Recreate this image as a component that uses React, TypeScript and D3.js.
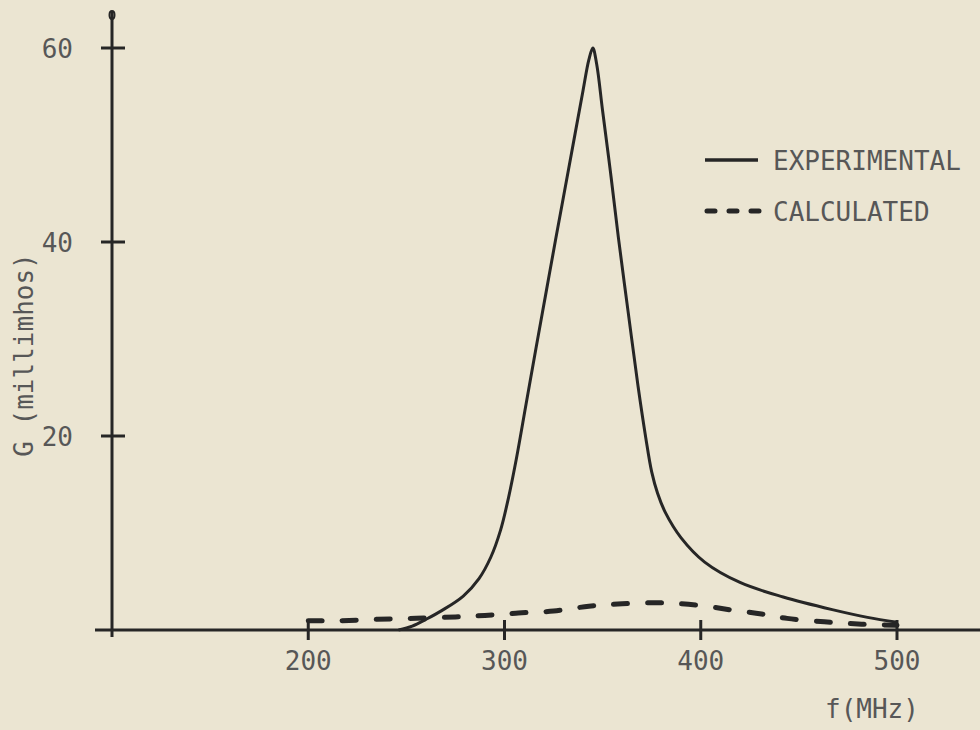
import React from "react";
import * as d3 from "d3";

const freqExp = [246, 253, 260, 268, 279, 287, 293, 298, 302, 306, 311, 316, 321, 326, 331, 336, 340, 343, 345, 347, 350, 354, 358, 363, 368, 372, 375, 378, 382, 390, 402, 420, 442, 467, 485, 500];
const gExp = [0, 0.4, 1.1, 2.0, 3.5, 5.3, 7.5, 10.3, 13.6, 17.6, 23.3, 29.0, 34.6, 40.2, 45.7, 51.2, 55.6, 58.8, 60, 58.3, 53.5, 47.2, 40.5, 32.8, 25.2, 19.8, 16.3, 14.1, 12.1, 9.5, 7.0, 4.9, 3.4, 2.1, 1.3, 0.8];

const freqCalc = [200, 215, 235, 255, 275, 290, 307, 325, 343, 360, 380, 399, 416, 431, 444, 463, 482, 500];
const gCalc = [0.95, 0.95, 1.1, 1.2, 1.35, 1.5, 1.75, 1.95, 2.45, 2.7, 2.8, 2.55, 2.05, 1.65, 1.2, 0.85, 0.6, 0.5];

const xTicks = [200, 300, 400, 500];
const yTicks = [20, 40, 60];
const legendLabels = ["EXPERIMENTAL", "CALCULATED"];

const W = 980;
const H = 730;
const BG = "#ebe5d2";
const INK = "#262626";
const TEXT = "#575757";
const FONT = "'DejaVu Sans Mono', monospace";

export default function App() {
  const x = d3.scaleLinear().domain([100, 500]).range([112, 897]);
  const y = d3.scaleLinear().domain([0, 60]).range([630, 48]);

  const line = d3
    .line<[number, number]>()
    .x((d) => x(d[0]))
    .y((d) => y(d[1]))
    .curve(d3.curveCatmullRom.alpha(0.5));

  const expPts: [number, number][] = freqExp.map((f, i) => [f, gExp[i]]);
  const calcPts: [number, number][] = freqCalc.map((f, i) => [f, gCalc[i]]);

  const x0 = x(100);
  const y0 = y(0);

  return (
    <svg
      width={W}
      height={H}
      viewBox={`0 0 ${W} ${H}`}
      style={{ position: "absolute", left: 0, top: 0, background: BG }}
    >
      <rect x={0} y={0} width={W} height={H} fill={BG} />
      {/* axes */}
      <line x1={x0} x2={x0} y1={y0 + 7} y2={12} stroke={INK} strokeWidth={3} />
      <line x1={95} x2={W} y1={y0} y2={y0} stroke={INK} strokeWidth={3} />
      <ellipse cx={x0} cy={15} rx={2.5} ry={4} fill="none" stroke={INK} strokeWidth={2} />

      {/* y ticks */}
      {yTicks.map((t) => (
        <g key={"y" + t}>
          <line x1={x0 - 11} x2={x0 + 13} y1={y(t)} y2={y(t)} stroke={INK} strokeWidth={3} />
          <text x={73} y={y(t) + 10} textAnchor="end" fontFamily={FONT} fontSize={26} fill={TEXT}>
            {t}
          </text>
        </g>
      ))}

      {/* x ticks */}
      {xTicks.map((t) => (
        <g key={"x" + t}>
          <line x1={x(t)} x2={x(t)} y1={y0 - 10} y2={y0 + 10} stroke={INK} strokeWidth={3} />
          <text x={x(t)} y={670} textAnchor="middle" fontFamily={FONT} fontSize={26} fill={TEXT}>
            {t}
          </text>
        </g>
      ))}

      {/* axis titles */}
      <text x={825} y={718} fontFamily={FONT} fontSize={26} fill={TEXT}>
        f(MHz)
      </text>
      <text
        transform="translate(33,355) rotate(-90)"
        textAnchor="middle"
        fontFamily={FONT}
        fontSize={26}
        fill={TEXT}
      >
        G (millimhos)
      </text>

      {/* curves */}
      <path d={line(calcPts) || ""} fill="none" stroke={INK} strokeWidth={5} strokeDasharray="14 20" strokeLinecap="round" />
      <path d={line(expPts) || ""} fill="none" stroke={INK} strokeWidth={3} />

      {/* legend */}
      <line x1={705} x2={758} y1={160} y2={160} stroke={INK} strokeWidth={3.5} />
      <text x={773} y={170} fontFamily={FONT} fontSize={26} fill={TEXT}>
        {legendLabels[0]}
      </text>
      <line x1={707} x2={763} y1={211} y2={211} stroke={INK} strokeWidth={5} strokeDasharray="8 14" strokeLinecap="round" />
      <text x={773} y={221} fontFamily={FONT} fontSize={26} fill={TEXT}>
        {legendLabels[1]}
      </text>
    </svg>
  );
}
